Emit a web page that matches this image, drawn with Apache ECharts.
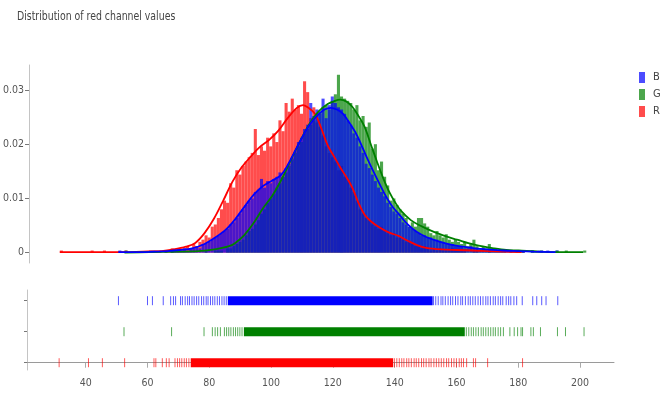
<!DOCTYPE html>
<html><head><meta charset="utf-8">
<script src="https://cdn.jsdelivr.net/npm/echarts@6/dist/echarts.min.js"></script>
<style>html,body{margin:0;padding:0;background:#fff}#c{width:662px;height:395px}</style>
</head><body><div id="c"></div>
<script>
const FONT = '"Liberation Sans Narrow", "DejaVu Sans Condensed", "Liberation Sans", sans-serif';
const titleText = 'Distribution of red channel values';
const legendNames = ['B', 'G', 'R'];
const binSize = 1;

// histogram densities, one value per bin of width 1 starting at histStart*
const histStartR = 31;
const histR = [0.0004,0,0,0,0,0,0,0,0,0,0.0004,0,0,0,0.0004,0,0,0,0,0,0,0.0004,0,0,0,0,0,0,0,0,0,
  0.0004,0.0004,0,0.0004,0.0004,0.0008,0.0004,0.0008,0.0008,0.0008,0.0012,0.0008,0.0016,0.0012,0.002,0.0024,0.0032,0.0028,
  0.0048,0.0052,0.0064,0.008,0.0096,0.0092,0.0128,0.012,0.0152,0.0144,0.016,0.0168,0.0176,0.0184,0.0228,0.018,0.0196,0.0188,0.0212,0.0196,
  0.022,0.0204,0.0244,0.0224,0.0276,0.026,0.0284,0.0264,0.0272,0.0256,0.0316,0.0296,0.0248,0.0268,0.024,0.0232,0.0216,0.0196,0.0184,0.0176,
  0.0168,0.0152,0.016,0.014,0.0136,0.012,0.0112,0.0096,0.008,0.0072,0.0064,0.006,0.0052,0.0048,0.0044,0.0048,0.004,0.0036,0.0032,0.0036,
  0.0028,0.0028,0.0024,0.002,0.002,0.0016,0.0012,0.0012,0.0008,0.0012,0.0008,0.0004,0.0008,0.0004,0.0008,0.0004,0.0004,0.0004,0.0008,0.0004,
  0.0004,0.0004,0.0004,0,0,0.0004,0.0004,0,0,0,0.0004,0,0,0,0,0,0,0,0,0,0,0.0004];

const histStartG = 52;
const histG = [0.0004,0,0,0,0,0,0,0,0,0,0,0,0,0,0,0.0004,0,0,0,0,0,0,0,0,0,0,0.0004,0,0,0.0004,0.0004,0.0004,0,
  0.0008,0.0008,0.0012,0.0016,0.002,0.0024,0.0032,0.004,0.0044,0.0052,0.006,0.0072,0.008,0.0092,0.01,
  0.0108,0.012,0.0128,0.014,0.0148,0.016,0.0172,0.0184,0.0196,0.0204,0.022,0.0228,0.0236,0.0244,0.0256,0.026,0.0268,0.0272,0.0264,0.028,
  0.0292,0.0328,0.0288,0.0284,0.028,0.0276,0.0264,0.0272,0.0244,0.0252,0.0232,0.024,0.0192,0.02,0.0152,0.0168,0.014,0.0124,0.0096,0.01,
  0.0088,0.008,0.0072,0.0064,0.0048,0.0056,0.0048,0.0064,0.0064,0.0054,0.0048,0.0036,0.0032,0.004,0.0032,0.0028,0.0034,0.0024,0.002,0.0024,
  0.002,0.0016,0.002,0.0012,0.0016,0.0024,0.0012,0.0008,0.0012,0.0008,0.0016,0.0004,0.0008,0.0004,0.0004,0.0004,0,0.0004,0,0.0004,
  0.0004,0.0004,0,0,0.0004,0.0004,0,0.0004,0,0,0,0,0.0004,0,0,0.0004,0,0,0,0,0,0.0004];

const histStartB = 50;
const histB = [0.0004,0,0,0,0,0,0,0,0,0,0.0004,0.0004,0,0,0,0.0004,0,0.0004,0.0004,0.0004,0.0004,0.0008,0.0004,0.0008,0.0008,0.0012,0.0008,0.0016,0.0016,0.002,
  0.0024,0.0028,0.0032,0.0036,0.004,0.0044,0.0052,0.0056,0.0064,0.0072,0.008,0.0088,0.0096,0.01,0.0112,0.0116,0.0136,0.012,0.0132,0.0128,
  0.0136,0.014,0.0148,0.014,0.0156,0.0164,0.0176,0.0188,0.0204,0.0212,0.0228,0.0236,0.0276,0.0252,0.0264,0.0256,0.0284,0.0248,0.0272,0.0288,
  0.0276,0.0268,0.0264,0.0256,0.0244,0.0236,0.022,0.0212,0.0196,0.0184,0.0164,0.0156,0.0144,0.0132,0.012,0.0112,0.0104,0.0092,0.0084,0.0076,
  0.0072,0.0064,0.0056,0.0052,0.0048,0.0044,0.004,0.0036,0.0032,0.0032,0.0028,0.0028,0.0024,0.0024,0.002,0.002,0.0016,0.0016,0.0016,0.0012,
  0.0012,0.0012,0.0008,0.0008,0.0012,0.0008,0.0008,0.0004,0.0008,0.0004,0.0004,0.0008,0.0004,0.0004,0.0004,0.0004,0.0004,0.0004,0.0004,0.0004,
  0,0.0004,0,0,0.0004,0,0.0004,0.0004,0,0.0004,0,0,0.0004];

// KDE curves
const kdeRX = [31,40,50,58,64,68,72,75,78,81,84,87,90,93,96,99,102,105,108,110,112,114,116,118,120,122,124,126,128,130,132,135,138,141,144,147,150,155,160,165,170,175,181];
const kdeRY = [0.0001,0.0001,0.0001,0.0002,0.0003,0.0006,0.0011,0.0018,0.0036,0.0062,0.0095,0.013,0.0157,0.0177,0.0195,0.0208,0.0225,0.0248,0.0267,0.0272,0.0266,0.0255,0.0228,0.0198,0.0178,0.0158,0.014,0.012,0.0092,0.007,0.0058,0.0046,0.0037,0.0031,0.0022,0.0014,0.0009,0.0006,0.0005,0.0004,0.0003,0.0002,0.0001];
const kdeGX = [52,60,70,76,80,83,86,88,91,94,97,100,103,106,109,112,115,118,120,122,124,126,128,130,132,134,136,138,140,142,145,148,151,154,157,160,164,168,172,176,180,186,192,201];
const kdeGY = [0.0,0.0001,0.0002,0.0003,0.0005,0.0008,0.0012,0.0018,0.0033,0.0055,0.0082,0.0105,0.0135,0.017,0.0205,0.0237,0.026,0.0274,0.0279,0.0282,0.0279,0.0269,0.0252,0.0232,0.02,0.0168,0.0138,0.0112,0.0092,0.0076,0.006,0.005,0.0042,0.0035,0.0029,0.0024,0.0017,0.0012,0.0008,0.0005,0.0004,0.0002,0.0001,0.0001];
const kdeBX = [50,56,62,66,70,74,78,82,85,88,91,94,97,100,103,106,109,112,115,117,119,121,123,125,127,129,131,133,135,137,139,141,144,147,150,154,158,162,166,170,175,180,185,192];
const kdeBY = [0.0001,0.0001,0.0002,0.0003,0.0005,0.0008,0.0016,0.003,0.0043,0.0062,0.0085,0.0107,0.0123,0.0133,0.0144,0.0172,0.0205,0.0235,0.0255,0.0264,0.0267,0.0264,0.0256,0.024,0.0222,0.0198,0.0172,0.0148,0.0125,0.0103,0.0085,0.0072,0.0052,0.0038,0.0029,0.0021,0.0015,0.0011,0.0008,0.0006,0.0004,0.0003,0.0002,0.0001];

// rug: isolated observations and the continuous dense band
const rugR = [31.4,40.9,45.4,52.6,62.1,62.7,64.8,66.1,67.0,68.9,69.7,70.4,71.1,71.9,72.6,73.4,139.9,140.7,141.5,142.3,143.0,143.9,144.6,145.4,146.3,147.0,147.8,148.7,149.4,150.2,151.1,151.8,152.7,153.5,154.3,155.1,155.9,156.8,157.5,158.4,159.2,160.0,160.9,161.6,162.3,163.3,165.5,166.2,170.1,181.4];
const rugRBand = [74.0, 139.5];
const rugG = [52.4,67.8,78.3,81.0,81.9,82.7,83.6,84.9,85.6,86.3,87.0,87.8,88.5,89.2,89.9,90.6,163.2,164.0,164.8,165.5,166.3,167.1,168.0,168.7,169.5,170.3,171.1,171.9,172.6,173.5,174.3,175.2,177.3,178.7,179.8,180.9,181.4,184.1,184.9,187.2,192.7,195.3,201.3];
const rugGBand = [91.2, 162.7];
const rugB = [50.6,60.0,61.6,65.1,67.5,68.4,69.1,70.7,71.3,72.2,73.0,73.6,74.4,75.1,75.9,76.6,77.5,78.2,79.0,79.6,80.4,81.1,81.8,82.6,83.3,84.1,84.8,85.5,152.6,153.3,154.1,155.0,155.6,156.4,157.3,158.1,158.8,159.7,160.5,161.4,162.0,162.9,163.8,164.5,165.3,166.1,167.0,167.8,168.6,169.5,170.2,171.0,171.9,172.6,173.5,174.3,175.0,176.1,176.9,177.6,178.6,179.5,181.3,184.7,186.0,187.6,189.0,192.8];
const rugBBand = [86.0, 152.3];
const rugRows = {R: 0, G: 1, B: 2};

const xTicks = [40, 60, 80, 100, 120, 140, 160, 180, 200];
const yTicks = [0, 0.01, 0.02, 0.03];

const lineColor = {R: '#ff0000', G: '#008000', B: '#0000ff'};
const barColor = {R: 'rgba(255,0,0,0.7)', G: 'rgba(0,128,0,0.7)', B: 'rgba(0,0,255,0.7)'};

function histData(start, arr) {
  const out = [];
  arr.forEach((d, i) => { if (d > 0) out.push([start + i * binSize, start + (i + 1) * binSize, d]); });
  return out;
}
function zip(xs, ys) { return xs.map((x, i) => [x, ys[i]]); }

function renderBar(params, api) {
  const p0 = api.coord([api.value(0), api.value(2)]);
  const p1 = api.coord([api.value(1), 0]);
  return {type: 'rect', shape: {x: p0[0], y: p0[1], width: p1[0] - p0[0], height: p1[1] - p0[1]},
    style: {fill: api.visual('color')}};
}
function histSeries(name, start, arr) {
  return {name: name, type: 'custom', xAxisIndex: 0, yAxisIndex: 0, renderItem: renderBar,
    itemStyle: {color: barColor[name]}, encode: {x: [0, 1], y: 2}, data: histData(start, arr), silent: true};
}
function kdeSeries(name, xs, ys) {
  return {name: name + ' kde', type: 'line', xAxisIndex: 0, yAxisIndex: 0, data: zip(xs, ys), smooth: 0.35,
    showSymbol: false, lineStyle: {color: lineColor[name], width: 1.8}, itemStyle: {color: lineColor[name]}, silent: true, z: 3};
}
function rugSeries(name, vals) {
  const row = rugRows[name];
  return {name: name + ' rug', type: 'custom', xAxisIndex: 1, yAxisIndex: 1, silent: true,
    data: vals.map(v => [v, row]), encode: {x: 0, y: 1},
    renderItem: function (params, api) {
      const p = api.coord([api.value(0), api.value(1)]);
      return {type: 'line', shape: {x1: p[0], y1: p[1] - 4.5, x2: p[0], y2: p[1] + 4.5},
        style: {stroke: lineColor[name], lineWidth: 1, opacity: 0.65}};
    }};
}
function rugBandSeries(name, band) {
  const row = rugRows[name];
  return {name: name + ' band', type: 'custom', xAxisIndex: 1, yAxisIndex: 1, silent: true,
    data: [[band[0], band[1], row]], encode: {x: [0, 1], y: 2},
    renderItem: function (params, api) {
      const a = api.coord([api.value(0), api.value(2)]);
      const b = api.coord([api.value(1), api.value(2)]);
      return {type: 'rect', shape: {x: a[0], y: a[1] - 4.5, width: b[0] - a[0], height: 9},
        style: {fill: lineColor[name]}};
    }};
}

const chart = echarts.init(document.getElementById('c'), null, {renderer: 'canvas'});
chart.setOption({
  animation: false,
  backgroundColor: '#ffffff',
  textStyle: {fontFamily: FONT},
  graphic: [{type: 'text', left: 17, top: 10, scaleX: 0.8, silent: true,
    style: {text: titleText, font: '13px ' + FONT, fill: '#444'}}],
  legend: {
    data: legendNames.map(n => ({name: n, itemStyle: {color: barColor[n]}})),
    orient: 'vertical', left: 634, top: 67, itemWidth: 6, itemHeight: 11, itemGap: 6, icon: 'rect',
    selectedMode: false, textStyle: {fontFamily: FONT, fontSize: 11, color: '#444', padding: [0, 0, 0, 3]}
  },
  grid: [
    {left: 27, right: 48, top: 65, height: 198},
    {left: 27, right: 48, top: 290, height: 80}
  ],
  xAxis: [
    {gridIndex: 0, type: 'value', min: 21, max: 211, show: false, splitLine: {show: false}},
    {gridIndex: 1, type: 'value', min: 21, max: 211, splitLine: {show: false},
      axisLine: {show: true, lineStyle: {color: '#9a9a9a', width: 1}},
      axisTick: {show: true, length: 5, customValues: xTicks, lineStyle: {color: '#aaa'}},
      axisLabel: {customValues: xTicks, margin: 8, fontSize: 10.5, color: '#555', fontFamily: FONT}}
  ],
  yAxis: [
    {gridIndex: 0, type: 'value', min: -0.0019, max: 0.0346, splitLine: {show: false},
      axisLine: {show: true, lineStyle: {color: '#c4c4c4'}},
      axisTick: {show: true, length: 4, customValues: yTicks, lineStyle: {color: '#777'}},
      axisLabel: {customValues: yTicks, margin: 5, fontSize: 10.5, color: '#555', fontFamily: FONT,
        formatter: v => (v === 0 ? '0' : v.toFixed(2))}},
    {gridIndex: 1, type: 'value', min: -0.235, max: 2.345, splitLine: {show: false},
      axisLine: {show: true, lineStyle: {color: '#c4c4c4'}},
      axisTick: {show: true, length: 3, customValues: [0, 1, 2], lineStyle: {color: '#777'}},
      axisLabel: {show: false}}
  ],
  series: [
    histSeries('R', histStartR, histR),
    histSeries('G', histStartG, histG),
    histSeries('B', histStartB, histB),
    kdeSeries('R', kdeRX, kdeRY),
    kdeSeries('G', kdeGX, kdeGY),
    kdeSeries('B', kdeBX, kdeBY),
    rugBandSeries('B', rugBBand), rugSeries('B', rugB),
    rugBandSeries('G', rugGBand), rugSeries('G', rugG),
    rugBandSeries('R', rugRBand), rugSeries('R', rugR)
  ]
});
</script></body></html>
